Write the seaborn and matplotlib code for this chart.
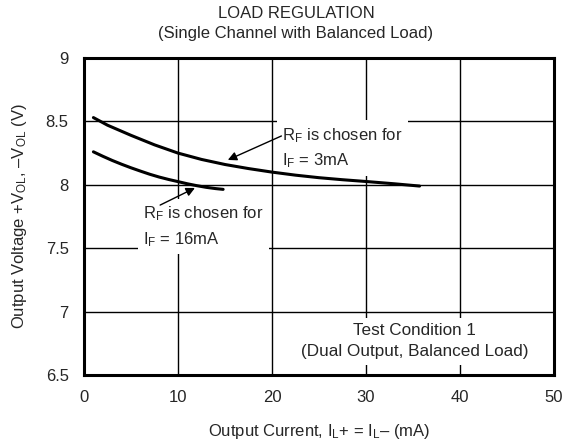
import pandas as pd
import seaborn as sns
import matplotlib.pyplot as plt

# curve readings (mA, V)
i_3ma = [1, 2.5, 5, 7.5, 10, 12.5, 15, 17.5, 20, 22.5, 25, 27.5, 30, 33, 35.7]
v_3ma = [8.53, 8.47, 8.39, 8.315, 8.25, 8.20, 8.16, 8.128, 8.10, 8.076, 8.056, 8.04,
         8.026, 8.008, 7.99]
i_16ma = [1, 2, 3, 4, 5, 6, 7, 8, 9, 10, 11, 12, 13, 14, 14.8]
v_16ma = [8.26, 8.225, 8.192, 8.162, 8.134, 8.108, 8.083, 8.061, 8.042, 8.025, 8.008,
          7.993, 7.98, 7.97, 7.964]

x_ticks = [0, 10, 20, 30, 40, 50]
y_ticks = [6.5, 7, 7.5, 8, 8.5, 9]

df = pd.concat([
    pd.DataFrame({'I': i_3ma, 'V': v_3ma, 'IF': '3mA'}),
    pd.DataFrame({'I': i_16ma, 'V': v_16ma, 'IF': '16mA'}),
])

sns.set_style('white')
plt.rcParams['font.family'] = ['Liberation Sans', 'DejaVu Sans']
plt.rcParams['mathtext.fontset'] = 'custom'
plt.rcParams['mathtext.rm'] = 'Liberation Sans'
plt.rcParams['mathtext.it'] = 'Liberation Sans:italic'
plt.rcParams['mathtext.default'] = 'rm'

fig = plt.figure(figsize=(5.65, 4.44), dpi=100)
ax = fig.add_axes([0.1487, 0.1554, 0.8318, 0.714])

sns.lineplot(data=df, x='I', y='V', units='IF', estimator=None, color='black',
             linewidth=2.2, ax=ax, legend=False, zorder=5)

ax.set_xlim(0, 50)
ax.set_ylim(6.5, 9)
ax.set_xticks(x_ticks)
ax.set_yticks(y_ticks)
ax.set_yticklabels(['6.5', '7', '7.5', '8', '8.5', '9'])
ax.tick_params(labelsize=12, length=0, pad=11)
ax.grid(True, color='black', linewidth=1)
for s in ax.spines.values():
    s.set_linewidth(2.2)
    s.set_color('black')
    s.set_zorder(6)

ax.set_xlabel('Output Current, I$_\\mathregular{L}$+ = I$_\\mathregular{L}$– (mA)', fontsize=12, labelpad=12)
ax.set_ylabel('Output Voltage +V$_\\mathregular{OL}$, –V$_\\mathregular{OL}$ (V)', fontsize=12, labelpad=12)

fig.text(0.524, 0.970, 'LOAD REGULATION', ha='center', va='center', fontsize=12)
fig.text(0.524, 0.925, '(Single Channel with Balanced Load)', ha='center', va='center', fontsize=12)

box = dict(facecolor='white', edgecolor='none', pad=4)
arrow = dict(arrowstyle='-|>', color='black', lw=1, mutation_scale=13, shrinkA=0, shrinkB=0)

ax.text(21.1, 8.29, 'R$_\\mathregular{F}$ is chosen for\nI$_\\mathregular{F}$ = 3mA', fontsize=12,
        ha='left', va='center', bbox=box, zorder=4, linespacing=1.5)
ax.annotate('', xy=(15.3, 8.196), xytext=(21.0, 8.385), arrowprops=arrow, zorder=7)

ax.text(6.3, 7.67, 'R$_\\mathregular{F}$ is chosen for\nI$_\\mathregular{F}$ = 16mA', fontsize=12,
        ha='left', va='center', bbox=box, zorder=4, linespacing=1.5)
ax.annotate('', xy=(11.8, 7.975), xytext=(8.1, 7.84), arrowprops=arrow, zorder=7)

ax.text(35.2, 6.765, 'Test Condition 1\n(Dual Output, Balanced Load)', ha='center', va='center',
        fontsize=12.3, bbox=dict(facecolor='white', edgecolor='none', pad=4), zorder=4,
        linespacing=1.5)

plt.savefig('out.png', dpi=100)
